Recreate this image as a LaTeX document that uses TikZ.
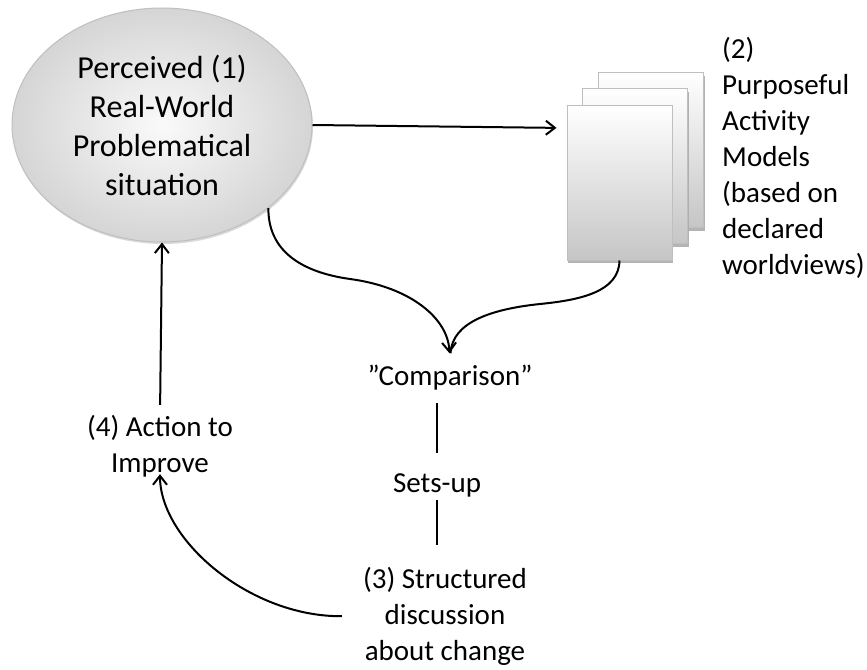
\documentclass[tikz,border=0pt]{standalone}
\usepackage{fontspec}
\setmainfont{Carlito}
\usetikzlibrary{shapes.geometric,arrows.meta,shadows}
\begin{document}
\begin{tikzpicture}[x=1pt,y=-1pt,
  lbl/.style={inner sep=0pt, font=\fontsize{29}{36}\selectfont, align=center},
  arr/.style={-{Straight Barb[length=9pt,width=14pt,line width=2pt]}, line width=2pt},
  con/.style={line width=2pt},
  page/.style={draw=gray!50, line width=1pt, top color=white, bottom color=gray!45,
    minimum width=105pt, minimum height=155pt, inner sep=0pt,
    drop shadow={shadow xshift=1pt, shadow yshift=-3pt, fill=gray!65, opacity=0.9}},
  blob/.style={ellipse, minimum width=300pt, minimum height=234pt, inner sep=0pt,
    draw=gray!50, line width=1pt, inner color=gray!4, outer color=gray!33,
    drop shadow={shadow xshift=1pt, shadow yshift=-2pt, fill=gray!50, opacity=0.6},
    font=\fontsize{32}{39}\selectfont, align=center}
]
\useasboundingbox (0,0) rectangle (867,669);

% (1)
\node[blob] (ell) at (162,125) {Perceived (1)\\Real-World\\Problematical\\situation};

% (2) stacked pages
\node[page] (back) at (651,150) {};
\node[page] (mid) at (635,166) {};
\node[page] (front) at (619.5,182.5) {};
\node[lbl, align=left, anchor=west] (pam) at (722,158)
  {(2)\\Purposeful\\Activity\\Models\\(based on\\declared\\worldviews)};

% comparison chain
\node[lbl] (cmp) at (450,378) {”Comparison”};
\node[lbl] (sets) at (437,485) {Sets-up};
\node[lbl] (str) at (445,616) {(3) Structured\\discussion\\about change};
\node[lbl] (act) at (160,446) {(4) Action to\\Improve};

% connectors
\draw[arr, shorten >=10pt] (ell.east) -- (front.west |- 0,128);
\draw[con, shorten >=12pt] (front.south) .. controls (619,292) and (580,300) .. (540,304)
  .. controls (492,309) and (452,322) .. (cmp.north);
\draw[arr, shorten >=12pt] (ell.-38.5) .. controls (268,250) and (300,272) .. (350,279)
  .. controls (410,287) and (448,318) .. (cmp.north);
\draw[con, shorten <=12pt, shorten >=20pt] (sets |- cmp.south) -- (sets.north);
\draw[con, shorten <=3pt, shorten >=22pt] (sets.south) -- (sets |- str.north);
\draw[arr, shorten <=10pt] (act.north) -- (ell.south);
\draw[arr, shorten <=21pt, shorten >=-3pt] (str.west) .. controls (250,617) and (160,540) .. (act.south);
\end{tikzpicture}
\end{document}
